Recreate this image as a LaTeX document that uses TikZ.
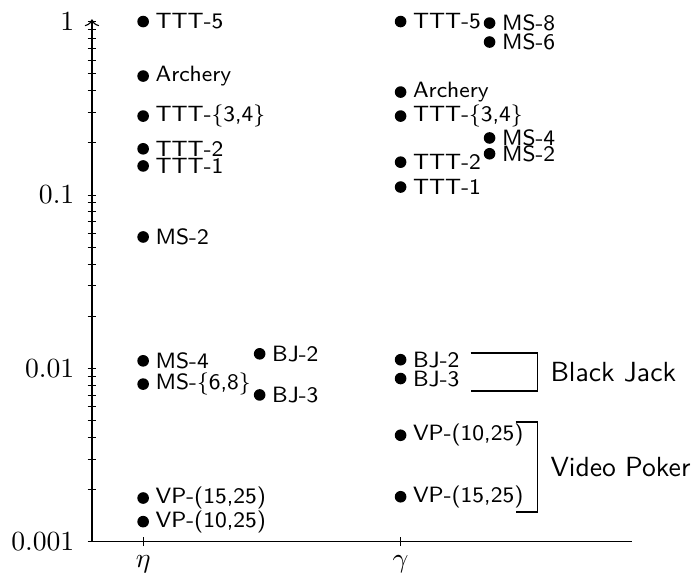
\documentclass[tikz,border=0pt]{standalone}
\usepackage{amsmath}
\usepackage{tikz}
\usetikzlibrary{arrows.meta,positioning}
\newcommand{\dlen}{2.202}
\newcommand{\gpt}[4]{%
  \node[gdot] (#1) at (#2,{\dlen*(3+log10(#3))}) {};
  \node[glab, right=0pt of #1] (#1l) {#4};}
\tikzset{
  gdot/.style={circle, fill=black, inner sep=0pt, minimum size=4.2pt},
  glab/.style={font=\sffamily\footnotesize, inner sep=2pt},
  axl/.style={line width=0.4pt},
  tck/.style={line width=0.3pt},
  ytl/.style={left=0.1cm},
  xtl/.style={below=0.05cm},
  brk/.style={line width=0.4pt},
  grp/.style={font=\sffamily, anchor=west},
}

\begin{document}
\begin{tikzpicture}[x=1cm,y=1cm]
\useasboundingbox (-1.168,-0.423) rectangle (7.71,6.88);
\coordinate (O) at (0,0);
\coordinate (ytop) at (0,6.635);
\coordinate (xend) at (6.86,0);
\draw[axl] (O) -- (xend);
\draw[axl,->] (O) -- (ytop);
\foreach \e/\lbl in {0/0.001,1/0.01,2/0.1,3/1}{
  \draw[tck] (-0.056,{\e*\dlen}) -- (0.056,{\e*\dlen});
  \node[ytl] (yt\e) at (0,{\e*\dlen}) {$\lbl$};}
\foreach \e in {0,1,2}
  \foreach \k in {2,...,9}
    \draw[tck] (-0.056,{\dlen*(\e+log10(\k))}) -- (0.056,{\dlen*(\e+log10(\k))});
\foreach \n/\x/\lbl in {eta/0.65/\eta,gam/3.92/\gamma}{
  \draw[tck] (\x,-0.056) -- (\x,0.056);
  \node[xtl] (xt\n) at (\x,0) {$\lbl$};}
\gpt{e-ttt5}{0.65}{1}{TTT-5}
\gpt{e-arch}{0.65}{0.485}{Archery}
\gpt{e-ttt34}{0.65}{0.285}{TTT-\{3,4\}}
\gpt{e-ttt2}{0.65}{0.184}{TTT-2}
\gpt{e-ttt1}{0.65}{0.145}{TTT-1}
\gpt{e-ms2}{0.65}{0.0572}{MS-2}
\gpt{e-ms4}{0.65}{0.0110}{MS-4}
\gpt{e-ms68}{0.65}{0.0079}{MS-\{6,8\}}
\gpt{e-vp15}{0.65}{0.00179}{VP-(15,25)}
\gpt{e-vp10}{0.65}{0.0013}{VP-(10,25)}
\gpt{e-bj2}{2.13}{0.0121}{BJ-2}
\gpt{e-bj3}{2.13}{0.00702}{BJ-3}
\gpt{g-ttt5}{3.92}{1}{TTT-5}
\gpt{g-arch}{3.92}{0.392}{Archery}
\gpt{g-ttt34}{3.92}{0.285}{TTT-\{3,4\}}
\gpt{g-ttt2}{3.92}{0.153}{TTT-2}
\gpt{g-ttt1}{3.92}{0.111}{TTT-1}
\gpt{g-bj2}{3.92}{0.01117}{BJ-2}
\gpt{g-bj3}{3.92}{0.00857}{BJ-3}
\gpt{g-vp10}{3.92}{0.00402}{VP-(10,25)}
\gpt{g-vp15}{3.92}{0.00181}{VP-(15,25)}
\gpt{g-ms8}{5.05}{0.98}{MS-8}
\gpt{g-ms6}{5.05}{0.762}{MS-6}
\gpt{g-ms4}{5.05}{0.213}{MS-4}
\gpt{g-ms2}{5.05}{0.172}{MS-2}
\coordinate (bjA) at (4.81,2.396);
\coordinate (bjB) at (5.66,1.914);
\coordinate (bjC) at (4.81,1.914);
\draw[brk] (bjA) -| (bjB) -- (bjC);
\node[grp] (bjt) at (5.70,2.155) {Black Jack};
\coordinate (vpA) at (5.38,1.52);
\coordinate (vpB) at (5.66,0.377);
\coordinate (vpC) at (5.38,0.377);
\draw[brk] (vpA) -| (vpB) -- (vpC);
\node[grp] (vpt) at (5.70,0.949) {Video Poker};
\end{tikzpicture}
\end{document}
